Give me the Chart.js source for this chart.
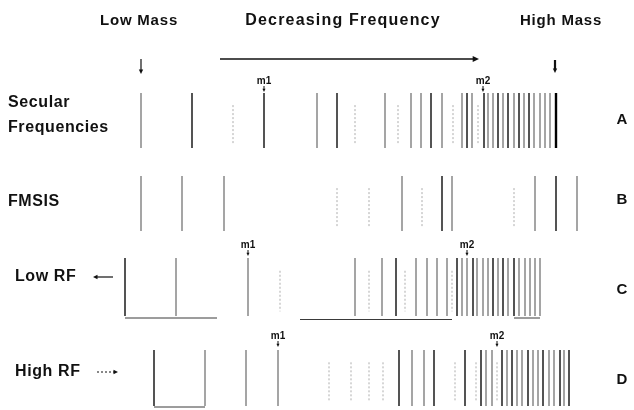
<!DOCTYPE html>
<html>
<head>
<meta charset="utf-8">
<title>Spectres de fréquences</title>
<script src="https://cdn.jsdelivr.net/npm/chart.js@4.4.1/dist/chart.umd.min.js"></script>
<style>
  html, body { margin: 0; padding: 0; background: #fff; }
  #wrap { width: 634px; height: 410px; position: relative; }
</style>
</head>
<body>
<div id="wrap"><canvas id="myChartSpectre"></canvas></div>
<script>
//? Données : position de chaque raie sur l'axe, intensité de 1 (faible) à 4 (forte).

const rowLabels = [["Secular", "Frequencies"], ["FMSIS"], ["Low RF"], ["High RF"]];
const rowLetters = ["A", "B", "C", "D"];
const headerLabels = ["Low Mass", "Decreasing Frequency", "High Mass"];

const posA = [141, 192, 233, 264, 317, 337, 355, 385, 398, 411, 421, 431, 442, 453, 462, 467, 472, 478, 484, 488, 493, 498, 503, 508, 514, 519, 524, 529, 534, 540, 545, 550, 556];
const intA = [2, 3, 1, 3, 2, 3, 1, 2, 1, 2, 2, 3, 2, 1, 2, 3, 2, 1, 3, 2, 2, 3, 2, 3, 2, 3, 2, 3, 2, 2, 2, 2, 4];

const posB = [141, 182, 224, 337, 369, 402, 422, 442, 452, 514, 535, 556, 577];
const intB = [2, 2, 2, 1, 1, 2, 1, 3, 2, 1, 2, 3, 2];

const posC = [125, 176, 248, 280, 355, 369, 382, 396, 405, 416, 427, 437, 447, 452, 457, 462, 467, 473, 477, 483, 488, 493, 498, 503, 508, 514, 519, 525, 530, 535, 540];
const intC = [3, 2, 2, 1, 2, 1, 2, 3, 1, 2, 2, 2, 2, 1, 3, 2, 2, 3, 2, 2, 2, 3, 2, 3, 2, 3, 2, 2, 2, 2, 2];

const posD = [154, 205, 246, 278, 329, 351, 369, 383, 399, 412, 424, 434, 455, 465, 476, 481, 486, 492, 497, 502, 507, 512, 517, 522, 528, 533, 538, 543, 549, 554, 560, 564, 569];
const intD = [3, 2, 2, 2, 1, 1, 1, 1, 3, 2, 2, 3, 1, 3, 1, 3, 2, 2, 1, 3, 2, 3, 2, 2, 3, 2, 2, 3, 2, 2, 3, 2, 3];

//? Repères m1 / m2 par ligne (null = pas de repère).
const m1Pos = [264, null, 248, 278];
const m2Pos = [483, null, 467, 497];

//? Lignes de base (début, fin) sous certaines raies.
const baseC = [[125, 217], [300, 452], [514, 540]];
const baseD = [[154, 205]];

//? -------------------------------------------------

//? Mise en page (unités des échelles = pixels de la figure).

const bandes = [
  { top: 93, bottom: 148, base: null, letterY: 120, labelY: [103, 128], labelX: 8, markY: 81 },
  { top: 176, bottom: 231, base: null, letterY: 200, labelY: [202], labelX: 8, markY: null },
  { top: 258, bottom: 316, base: 318, letterY: 290, labelY: [277], labelX: 15, markY: 245 },
  { top: 350, bottom: 406, base: 407, letterY: 380, labelY: [372], labelX: 15, markY: 336 },
];

const styles = {
  1: { color: "rgba(70,70,70,0.45)", width: 1, dash: [2, 2] },
  2: { color: "#6a6a6a", width: 1.2, dash: [] },
  3: { color: "#1c1c1c", width: 1.5, dash: [] },
  4: { color: "#000000", width: 2.4, dash: [] },
};

const lignes = [
  { pos: posA, int: intA, base: [] },
  { pos: posB, int: intB, base: [] },
  { pos: posC, int: intC, base: baseC },
  { pos: posD, int: intD, base: baseD },
];

//? -------------------------------------------------

//? Construction des datasets (une série par ligne et par intensité).

const datasets = [];

lignes.forEach((ligne, r) => {
  const b = bandes[r];
  [1, 2, 3, 4].forEach((niveau) => {
    const data = [];
    ligne.pos.forEach((p, i) => {
      if (ligne.int[i] !== niveau) return;
      const h = b.bottom - b.top;
      const top = niveau === 1 ? b.top + h * 0.22 : b.top;
      const bottom = niveau === 1 ? b.bottom - h * 0.08 : b.bottom;
      data.push({ x: p, y: top }, { x: p, y: bottom }, { x: p, y: null });
    });
    if (!data.length) return;
    const s = styles[niveau];
    datasets.push({
      label: rowLetters[r] + niveau,
      data,
      showLine: true,
      borderColor: s.color,
      borderWidth: s.width,
      borderDash: s.dash,
      pointRadius: 0,
      spanGaps: false,
    });
  });

  //? Lignes de base
  ligne.base.forEach(([x1, x2]) => {
    const y = r === 2 && x1 > 250 && x1 < 400 ? b.base + 1.5 : b.base;
    datasets.push({
      label: rowLetters[r] + "base",
      data: [{ x: x1, y }, { x: x2, y }],
      showLine: true,
      borderColor: "#3a3a3a",
      borderWidth: 1,
      pointRadius: 0,
    });
  });
});

//? -------------------------------------------------

//? Plugin pour les textes et les flèches.

const fleche = (ctx, x1, y1, x2, y2, largeur, tete, dash) => {
  const ang = Math.atan2(y2 - y1, x2 - x1);
  ctx.save();
  ctx.strokeStyle = "#111";
  ctx.fillStyle = "#111";
  ctx.lineWidth = largeur;
  ctx.setLineDash(dash || []);
  ctx.beginPath();
  ctx.moveTo(x1, y1);
  ctx.lineTo(x2 - Math.cos(ang) * tete * 0.8, y2 - Math.sin(ang) * tete * 0.8);
  ctx.stroke();
  ctx.setLineDash([]);
  ctx.beginPath();
  ctx.moveTo(x2, y2);
  ctx.lineTo(x2 - Math.cos(ang - 0.45) * tete, y2 - Math.sin(ang - 0.45) * tete);
  ctx.lineTo(x2 - Math.cos(ang + 0.45) * tete, y2 - Math.sin(ang + 0.45) * tete);
  ctx.closePath();
  ctx.fill();
  ctx.restore();
};

const pluginTextes = {
  id: "textes",
  afterDatasetsDraw(chart) {
    const ctx = chart.ctx;
    const X = (v) => chart.scales.x.getPixelForValue(v);
    const Y = (v) => chart.scales.y.getPixelForValue(v);

    ctx.save();
    ctx.fillStyle = "#111";
    ctx.textBaseline = "middle";

    //? En-têtes
    ctx.textAlign = "center";
    ctx.font = "bold 15px 'Liberation Sans', Arial, sans-serif";
    ctx.letterSpacing = "0.8px";
    ctx.fillText(headerLabels[0], X(139), Y(21));
    ctx.fillText(headerLabels[2], X(561), Y(21));
    ctx.font = "bold 16px 'Liberation Sans', Arial, sans-serif";
    ctx.letterSpacing = "1.2px";
    ctx.fillText(headerLabels[1], X(343), Y(21));

    //? Noms des lignes
    ctx.textAlign = "left";
    ctx.letterSpacing = "0.6px";
    bandes.forEach((b, r) => {
      rowLabels[r].forEach((t, k) => ctx.fillText(t, X(b.labelX), Y(b.labelY[k])));
    });

    //? Lettres A-D
    ctx.textAlign = "center";
    ctx.letterSpacing = "0px";
    ctx.font = "bold 15px 'Liberation Sans', Arial, sans-serif";
    bandes.forEach((b, r) => ctx.fillText(rowLetters[r], X(622), Y(b.letterY)));

    //? Repères m1 / m2
    ctx.font = "bold 10px 'Liberation Sans', Arial, sans-serif";
    bandes.forEach((b, r) => {
      if (b.markY === null) return;
      [["m1", m1Pos[r]], ["m2", m2Pos[r]]].forEach(([t, p]) => {
        ctx.fillText(t, X(p), Y(b.markY));
        fleche(ctx, X(p), Y(b.markY + 5), X(p), Y(b.markY + 11), 1, 3.5);
      });
    });
    ctx.restore();

    //? Flèches de l'en-tête
    fleche(ctx, X(220), Y(59), X(479), Y(59), 1.4, 7);
    fleche(ctx, X(141), Y(59), X(141), Y(74), 1.2, 5);
    fleche(ctx, X(555), Y(60), X(555), Y(73), 2.2, 5);

    //? Flèches Low RF / High RF
    fleche(ctx, X(113), Y(277), X(93), Y(277), 1.2, 5);
    fleche(ctx, X(97), Y(372), X(118), Y(372), 1, 5, [2, 2]);
  },
};

//? -------------------------------------------------

//? Construction du graphique.

const ctxSpectre = document.getElementById("myChartSpectre").getContext("2d");

new Chart(ctxSpectre, {
  type: "scatter",
  data: { datasets },
  options: {
    responsive: true,
    maintainAspectRatio: false,
    animation: false,
    layout: { padding: 0 },
    plugins: { legend: { display: false }, tooltip: { enabled: false } },
    scales: {
      x: { type: "linear", min: 0, max: 634, display: false },
      y: { type: "linear", min: 0, max: 410, reverse: true, display: false },
    },
  },
  plugins: [pluginTextes],
});
</script>
</body>
</html>
